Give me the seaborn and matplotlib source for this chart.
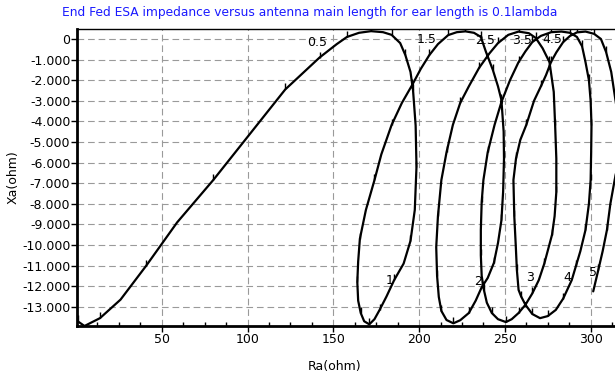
import pandas as pd
import seaborn as sns
import matplotlib.pyplot as plt
from matplotlib.ticker import FuncFormatter, MultipleLocator

# impedance locus (Ra, Xa in ohm), in order of growing main length
ra_ohm = [1, 5, 14, 26, 41, 59, 80, 101, 122, 133,
          142, 152, 158, 165, 172, 179, 184, 189, 192, 195,
          196.5, 198, 198.5, 197.5, 195, 191, 185.5, 181, 177, 174,
          171, 168, 166, 164.5, 164, 164.5, 165.5, 169, 174, 178,
          184, 190, 196, 201, 206, 211, 217, 222, 227, 232,
          236, 239, 243, 246, 248, 249.3, 249.5, 249, 248, 246,
          243.6, 240, 236.5, 233, 229, 224, 220, 216, 213, 211.5,
          210.5, 210, 211, 213, 216, 219.7, 224, 229, 235, 241,
          246, 252, 258, 264, 268, 272, 276, 278.5, 279.3, 280,
          280, 279, 277.5, 275.6, 273, 269.8, 266, 262, 258, 254,
          250.6, 246, 242.4, 239.5, 237.8, 236.5, 236, 236, 236.5, 237.5,
          240, 244, 248, 253, 258, 262, 266, 271, 277, 283,
          288, 292, 295, 297, 299, 300, 300.5, 300.3, 300, 299,
          297, 294, 291.5, 289, 284, 279.7, 275, 270.5, 266, 262,
          259.5, 258, 257, 256.4, 255.5, 255, 256.5, 259, 262.5, 267,
          271, 274, 277, 280, 284, 288, 292, 297, 302, 306,
          309, 312, 314, 316, 317, 316.5, 314, 311.5, 309.5, 307,
          304.5, 301.5]
xa_ohm = [-13700, -13930, -13550, -12650, -11000, -8900, -6850, -4650, -2450, -1600,
          -900, -250, 100, 300, 380, 330, 200, -200, -780, -1600,
          -2500, -4200, -6200, -8300, -9800, -10900, -11700, -12500, -13150, -13600,
          -13850, -13700, -13300, -12700, -11800, -10800, -9700, -8300, -6850, -5600,
          -4170, -3100, -2230, -1450, -780, -250, 190, 330, 370, 300,
          100, -630, -1500, -2300, -2960, -4500, -5800, -7400, -8800, -9900,
          -10870, -11600, -12050, -12700, -13300, -13650, -13800, -13640, -13200, -12520,
          -11500, -10100, -8600, -6845, -5500, -4170, -3100, -2300, -1400, -700,
          -200, 200, 360, 280, 50, -450, -1120, -2570, -4170, -5800,
          -7430, -8600, -9500, -10100, -10900, -11700, -12350, -12900, -13300, -13600,
          -13740, -13600, -13300, -12800, -12180, -11500, -10500, -9270, -7900, -6845,
          -5500, -4170, -3060, -2000, -1120, -600, -150, 150, 330, 360,
          300, 100, -350, -1120, -2000, -3000, -4170, -5500, -6845, -8000,
          -9270, -10300, -11000, -11700, -12600, -13150, -13450, -13550, -13350, -12900,
          -12500, -12180, -11200, -10100, -8600, -6845, -5800, -4900, -4170, -3000,
          -2300, -1750, -1100, -650, -150, 150, 320, 360, 250, 0,
          -630, -1600, -2720, -3800, -4800, -5800, -6845, -8000, -9270, -10300,
          -11200, -12250]

# antenna main length (lambda) written on the locus, and the point it marks
length_labels = ["0.5", "1", "1.5", "2", "2.5", "3", "3.5", "4", "4.5", "5"]
label_points = [10, 26, 44, 62, 79, 95, 115, 133, 153, 171]
label_offsets = [(-2, 10.5), (-3, 0), (-2, 11), (-2.5, 4), (-3, 9.5),
                 (-6.5, 1.5), (-2.5, 8), (-3.5, 1.5), (-3, 9), (0, 13.5)]

df = pd.DataFrame({"Ra": ra_ohm, "Xa": xa_ohm})

sns.set_theme(style="white")
plt.rcParams["font.family"] = ["DejaVu Sans"]

fig = plt.figure(figsize=(6.15, 3.78), dpi=100)
ax = fig.add_axes([0.1257, 0.1376, 0.8743, 0.7857])

sns.lineplot(data=df, x="Ra", y="Xa", sort=False, estimator=None, ax=ax,
             color="black", linewidth=1.6, marker=2, markersize=4, markevery=2,
             markeredgewidth=1, markeredgecolor="black")

for lab, idx, off in zip(length_labels, label_points, label_offsets):
    ax.annotate(lab, (ra_ohm[idx], xa_ohm[idx]), xytext=off,
                textcoords="offset points", ha="center", va="center",
                fontsize=9, color="black")

ax.set_xlim(0.8, 314.2)
ax.set_ylim(-13930, 485)
ax.xaxis.set_major_locator(MultipleLocator(50))
ax.xaxis.set_minor_locator(MultipleLocator(12.5))
ax.yaxis.set_major_locator(MultipleLocator(1000))

def thousands(v, pos):
    if abs(v) < 1:
        return "0"
    return f"{v:,.0f}".replace(",", ".")

ax.yaxis.set_major_formatter(FuncFormatter(thousands))

ax.grid(True, which="major", linestyle=(0, (6, 3.5)), color="#9a9a9a", linewidth=0.8)
ax.set_axisbelow(True)

ax.tick_params(axis="both", which="major", direction="out", length=4, width=1,
               colors="black", labelsize=9, left=True, bottom=True, pad=1)
ax.tick_params(axis="x", which="minor", direction="in", length=3, width=1,
               colors="black", bottom=True)

for side, lw in [("left", 2), ("bottom", 2), ("top", 1)]:
    ax.spines[side].set_visible(True)
    ax.spines[side].set_linewidth(lw)
    ax.spines[side].set_color("black")
ax.spines["right"].set_visible(False)

ax.set_xlabel("Ra(ohm)", fontsize=9, color="black")
ax.set_ylabel("Xa(ohm)", fontsize=9, color="black")
ax.xaxis.set_label_coords(0.479, -0.113)
ax.yaxis.set_label_coords(-0.107, 0.5)

fig.text(0.504, 0.968, "End Fed ESA impedance versus antenna main length for ear length is 0.1lambda",
         ha="center", va="center", fontsize=8.8, color="#1a1aff")

fig.savefig("out.png", dpi=100)
